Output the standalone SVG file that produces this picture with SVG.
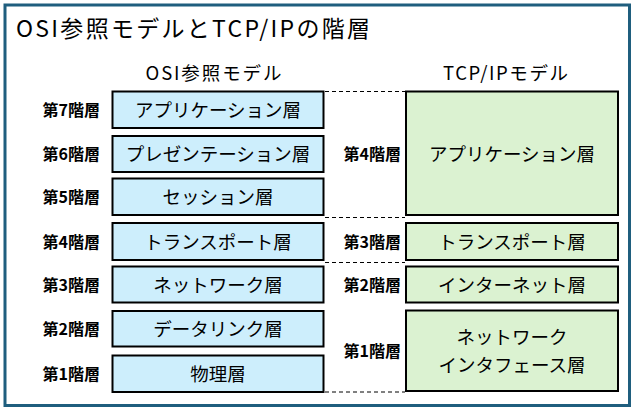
<svg xmlns="http://www.w3.org/2000/svg" width="635" height="410" viewBox="0 0 635 410">
  <style>
    .frame { fill: #ffffff; stroke: #1f5e7e; stroke-width: 3; }
    .osi { fill: #cdeefc; stroke: #000000; stroke-width: 2; }
    .tcp { fill: #dbf2d1; stroke: #000000; stroke-width: 2; }
    .t { font-family: "Noto Sans CJK JP", "Noto Sans", sans-serif; fill: #000000; }
    .title { font-size: 23px; }
    .head { font-size: 18.5px; text-anchor: middle; }
    .box { font-size: 18.5px; text-anchor: middle; }
    .lbl { font-size: 16px; font-weight: bold; text-anchor: end; }
    .dash { stroke: #000000; stroke-width: 1; stroke-dasharray: 4 3; fill: none; }
  </style>
  <rect class="frame" x="5" y="5" width="624.5" height="400.5"/>
  <text class="t title" x="16" y="37" textLength="354" lengthAdjust="spacing">OSI参照モデルとTCP/IPの階層</text>
  <text class="t head" x="213.5" y="80" textLength="136" lengthAdjust="spacing">OSI参照モデル</text>
  <text class="t head" x="505.5" y="80" textLength="125" lengthAdjust="spacing">TCP/IPモデル</text>

  <g id="connectors">
    <line class="dash" x1="325" y1="91.5" x2="405" y2="91.5"/>
    <line class="dash" x1="325" y1="217.5" x2="405" y2="217.5"/>
    <line class="dash" x1="325" y1="262.5" x2="405" y2="262.5"/>
    <line class="dash" x1="325" y1="392" x2="405" y2="392"/>
  </g>

  <g id="osi7">
    <rect class="osi" x="112.5" y="91.5" width="211" height="36.5"/>
    <text class="t box" x="218" y="116.7">アプリケーション層</text>
    <text class="t lbl" x="100" y="115.8">第7階層</text>
  </g>
  <g id="osi6">
    <rect class="osi" x="112.5" y="136" width="211" height="36"/>
    <text class="t box" x="218" y="161">プレゼンテーション層</text>
    <text class="t lbl" x="100" y="160">第6階層</text>
  </g>
  <g id="osi5">
    <rect class="osi" x="112.5" y="178.5" width="211" height="36.5"/>
    <text class="t box" x="218" y="203.8">セッション層</text>
    <text class="t lbl" x="100" y="202.8">第5階層</text>
  </g>
  <g id="osi4">
    <rect class="osi" x="112.5" y="223" width="211" height="37"/>
    <text class="t box" x="218" y="248.5">トランスポート層</text>
    <text class="t lbl" x="100" y="247.5">第4階層</text>
  </g>
  <g id="osi3">
    <rect class="osi" x="112.5" y="266.5" width="211" height="36"/>
    <text class="t box" x="218" y="291.5">ネットワーク層</text>
    <text class="t lbl" x="100" y="290.5">第3階層</text>
  </g>
  <g id="osi2">
    <rect class="osi" x="112.5" y="311" width="211" height="35.5"/>
    <text class="t box" x="218" y="335.8">データリンク層</text>
    <text class="t lbl" x="100" y="334.8">第2階層</text>
  </g>
  <g id="osi1">
    <rect class="osi" x="112.5" y="355.5" width="211" height="36.5"/>
    <text class="t box" x="218" y="380.8">物理層</text>
    <text class="t lbl" x="100" y="379.8">第1階層</text>
  </g>

  <g id="tcp4">
    <rect class="tcp" x="406" y="91.5" width="212" height="123.5"/>
    <text class="t box" x="512" y="160.5">アプリケーション層</text>
    <text class="t lbl" x="401" y="159.5">第4階層</text>
  </g>
  <g id="tcp3">
    <rect class="tcp" x="406" y="223" width="212" height="37"/>
    <text class="t box" x="512" y="248.5">トランスポート層</text>
    <text class="t lbl" x="401" y="247.5">第3階層</text>
  </g>
  <g id="tcp2">
    <rect class="tcp" x="406" y="266.5" width="212" height="36"/>
    <text class="t box" x="512" y="291.5">インターネット層</text>
    <text class="t lbl" x="401" y="290.5">第2階層</text>
  </g>
  <g id="tcp1">
    <rect class="tcp" x="406" y="310.5" width="212" height="80.5"/>
    <text class="t box" x="512" y="344">ネットワーク</text>
    <text class="t box" x="512" y="372.2">インタフェース層</text>
    <text class="t lbl" x="401" y="357">第1階層</text>
  </g>
</svg>
